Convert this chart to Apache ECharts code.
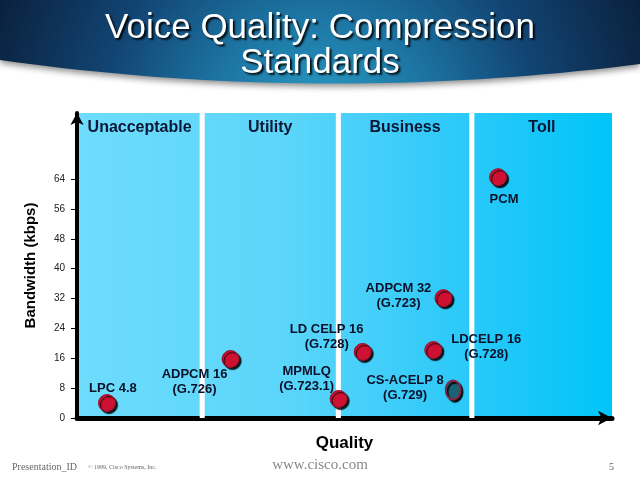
<!DOCTYPE html>
<html>
<head>
    <meta charset="UTF-8"/>
    <title>Voice Quality</title>
    <script src="https://cdn.jsdelivr.net/npm/echarts@6/dist/echarts.min.js"></script>
    <style>
        html, body { margin: 0; padding: 0; background: #fff; }
        #chart { width: 640px; height: 480px; }
    </style>
</head>
<body>
<div id="chart"></div>
<script>
    // codecs: quality position (0-100) and bandwidth (kbps)
    var codecNames = ['LPC 4.8', 'ADPCM 16\n(G.726)', 'LD CELP 16\n(G.728)', 'MPMLQ\n(G.723.1)',
        'ADPCM 32\n(G.723)', 'LDCELP 16\n(G.728)', 'CS-ACELP 8\n(G.729)', 'PCM'];
    var qualityScores = [5.6, 28.7, 53.4, 48.9, 68.5, 66.6, 70.3, 78.7];
    var bandwidthKbps = [4.0, 15.8, 17.7, 5.1, 32.1, 18.2, 7.5, 64.5];

    var bandNames = ['Unacceptable', 'Utility', 'Business', 'Toll'];
    var bandEdges = [0, 23.4, 48.85, 73.8, 100];
    var yTicks = [0, 8, 16, 24, 32, 40, 48, 56, 64];

    // layout only: label offset next to each point, special marker
    var labelOffsets = [[6, -15], [-36, 23], [-36, -15], [-32, -20], [-45, -2], [53, -3], [-48, -2], [6, 22]];
    var specialIdx = 6;
    var gapW = 0.95;

    var points = codecNames.map(function (n, i) {
        var p = {
            name: n,
            value: [qualityScores[i], bandwidthKbps[i]],
            label: { offset: labelOffsets[i] }
        };
        if (i === specialIdx) {
            p.symbolSize = [15, 19];
            p.itemStyle = { color: '#1b6276', borderColor: '#8a2446', borderWidth: 2 };
        }
        return p;
    });

    var bandAreas = bandNames.map(function (b, i) {
        return [{ name: b, xAxis: bandEdges[i] }, { xAxis: bandEdges[i + 1] }];
    });
    var gapAreas = [];
    for (var g = 1; g < bandEdges.length - 1; g++) {
        gapAreas.push([{ xAxis: bandEdges[g] - gapW / 2 }, { xAxis: bandEdges[g] + gapW / 2 }]);
    }

    // banner outline: straight top, curved bottom
    var banner = [[0, 0], [640, 0]];
    for (var s = 0; s <= 40; s++) {
        var t = s / 40;
        var bx = (1 - t) * (1 - t) * 640 + 2 * t * (1 - t) * 320;
        var by = (1 - t) * (1 - t) * 64 + 2 * t * (1 - t) * 105 + t * t * 60;
        banner.push([bx, by]);
    }

    var chart = echarts.init(document.getElementById('chart'));
    chart.setOption({
        backgroundColor: '#fff',
        animation: false,
        grid: {
            left: 77, right: 28, top: 113, bottom: 62, show: true, borderWidth: 0,
            backgroundColor: {
                type: 'linear', x: 0, y: 0, x2: 1, y2: 0,
                colorStops: [
                    { offset: 0, color: '#6edcfc' },
                    { offset: 0.4, color: '#5ad5fa' },
                    { offset: 0.65, color: '#36cbf9' },
                    { offset: 1, color: '#00c4f8' }
                ]
            }
        },
        xAxis: {
            type: 'value', min: 0, max: 100,
            name: 'Quality', nameLocation: 'middle', nameGap: 17,
            nameTextStyle: { fontFamily: 'Liberation Sans', fontWeight: 'bold', fontSize: 17, color: '#000' },
            axisLine: { lineStyle: { color: '#000', width: 5 }, symbol: ['none', 'arrow'], symbolSize: [11, 14] },
            axisTick: { show: false }, axisLabel: { show: false }, splitLine: { show: false }
        },
        yAxis: {
            type: 'value', min: 0, max: 81.7, interval: 8,
            name: 'Bandwidth (kbps)', nameLocation: 'middle', nameGap: 39,
            nameTextStyle: { fontFamily: 'Liberation Sans', fontWeight: 'bold', fontSize: 15, color: '#000' },
            axisLine: { show: true, lineStyle: { color: '#000', width: 4 }, symbol: ['none', 'arrow'], symbolSize: [10, 12] },
            axisTick: { show: true, length: 6, customValues: yTicks, lineStyle: { color: '#000', width: 1 } },
            axisLabel: { customValues: yTicks, margin: 12, fontFamily: 'Liberation Sans', fontSize: 10, color: '#222' },
            splitLine: { show: false }
        },
        series: [{
            type: 'scatter',
            data: points,
            symbolSize: 17,
            itemStyle: {
                color: '#cc1133', borderColor: '#99102a', borderWidth: 1, opacity: 1,
                shadowColor: 'rgba(0,0,0,0.9)', shadowOffsetX: 2, shadowOffsetY: 2, shadowBlur: 1
            },
            label: {
                show: true, position: 'inside', formatter: '{b}',
                fontFamily: 'Liberation Sans', fontWeight: 'bold', fontSize: 13, lineHeight: 15,
                color: '#0a1028', align: 'center', textBorderWidth: 0, textBorderColor: 'transparent',
                textShadowBlur: 0, textShadowColor: 'transparent'
            },
            markArea: {
                silent: true,
                itemStyle: { color: 'rgba(0,0,0,0)' },
                label: {
                    position: 'insideTop', distance: 7,
                    fontFamily: 'Liberation Sans', fontWeight: 'bold', fontSize: 16, color: '#0a1633'
                },
                data: bandAreas
            }
        }, {
            type: 'scatter',
            data: [],
            markArea: {
                silent: true,
                itemStyle: { color: '#ffffff', opacity: 1 },
                data: gapAreas
            }
        }],
        graphic: [
            {
                type: 'polygon', z: 10,
                shape: { points: banner },
                style: {
                    fill: {
                        type: 'radial', x: 320, y: 125, r: 360, global: true,
                        colorStops: [
                            { offset: 0, color: '#2aa0c8' },
                            { offset: 0.3, color: '#1d76a4' },
                            { offset: 0.6, color: '#124574' },
                            { offset: 1, color: '#091c36' }
                        ]
                    },
                    shadowColor: 'rgba(0,0,0,0.45)', shadowBlur: 6, shadowOffsetY: 3
                }
            },
            {
                type: 'text', z: 11, x: 320, y: 11,
                style: {
                    text: 'Voice Quality: Compression\nStandards', fill: '#fff',
                    align: 'center', verticalAlign: 'top',
                    fontFamily: 'Liberation Sans', fontSize: 35, lineHeight: 35,
                    textShadowColor: 'rgba(0,0,0,0.9)', textShadowOffsetX: 2, textShadowOffsetY: 2, textShadowBlur: 2
                }
            },
            {
                type: 'text', left: 12, top: 462,
                style: { text: 'Presentation_ID', fill: '#666', fontFamily: 'Liberation Serif', fontSize: 10 }
            },
            {
                type: 'text', left: 88, top: 464,
                style: { text: '\u00a9 1999, Cisco Systems, Inc.', fill: '#666', fontFamily: 'Liberation Serif', fontSize: 6 }
            },
            {
                type: 'text', left: 'center', top: 458,
                style: { text: 'www.cisco.com', fill: '#888', fontFamily: 'Liberation Serif', fontSize: 15 }
            },
            {
                type: 'text', left: 609, top: 462,
                style: { text: '5', fill: '#666', fontFamily: 'Liberation Serif', fontSize: 10 }
            }
        ]
    });
</script>
</body>
</html>
